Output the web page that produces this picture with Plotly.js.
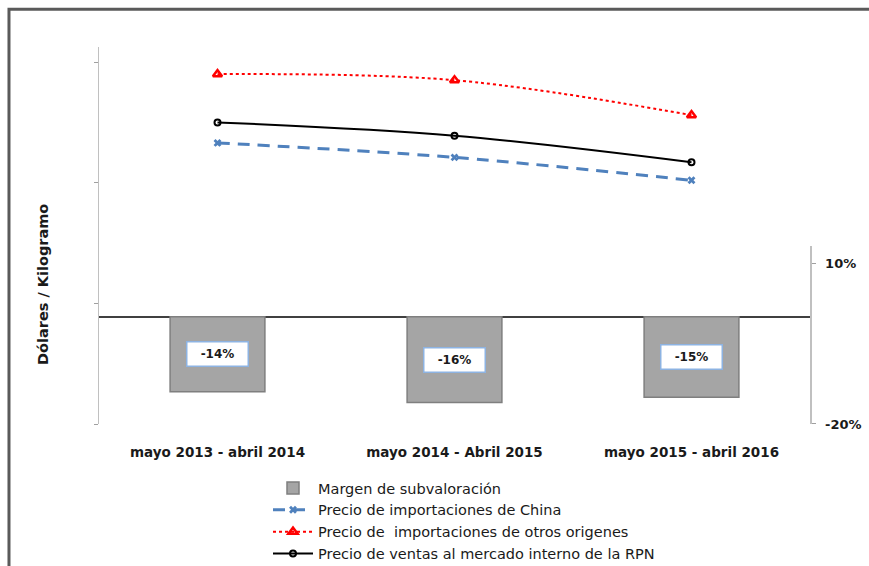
<!DOCTYPE html>
<html>
<head>
<meta charset="utf-8">
<script src="https://cdn.plot.ly/plotly-3.0.1.min.js"></script>
<style>html,body{margin:0;padding:0;background:#fff;}#chart{width:869px;height:566px;}</style>
</head>
<body>
<div id="chart"></div>
<script>
// Data
const categories = ["mayo 2013 - abril 2014", "mayo 2014 - Abril 2015", "mayo 2015 - abril 2016"];
const margen = [-14, -16, -15];               // % margen de subvaloración
const margenLabels = ["-14%", "-16%", "-15%"];
const precioChina = [2.33, 2.21, 2.02];       // Dólares / Kilogramo (escala relativa)
const precioOtros = [2.90, 2.85, 2.56];
const precioRPN = [2.50, 2.39, 2.17];
const rightTickVals = [10, -20];
const rightTickText = ["10%", "-20%"];

const FONT = "DejaVu Sans, Liberation Sans, Arial, sans-serif";

const traces = [
  {
    type: "bar", name: "Margen de subvaloración",
    x: categories, y: margen, xaxis: "x", yaxis: "y2", width: 0.4,
    marker: {color: "#a5a5a5", line: {color: "#7f7f7f", width: 1.5}},
    hoverinfo: "skip"
  },
  {
    type: "scatter", mode: "lines+markers", name: "Precio de importaciones de China",
    x: categories, y: precioChina,
    line: {color: "#4f81bd", width: 3, dash: "12px,8px", shape: "spline"},
    marker: {symbol: "x", size: 7, color: "#4f81bd"}
  },
  {
    type: "scatter", mode: "lines+markers", name: "Precio de  importaciones de otros origenes",
    x: categories, y: precioOtros,
    line: {color: "#ff0000", width: 2, dash: "dot", shape: "spline"},
    marker: {symbol: "triangle-up-open", size: 8, color: "#ff0000", line: {width: 2.5, color: "#ff0000"}}
  },
  {
    type: "scatter", mode: "lines+markers", name: "Precio de ventas al mercado interno de la RPN",
    x: categories, y: precioRPN,
    line: {color: "#000000", width: 2, shape: "spline"},
    marker: {symbol: "circle-open", size: 6, color: "#000000", line: {width: 2, color: "#000000"}}
  }
];

const annotations = margen.map((v, i) => ({
  x: categories[i], y: v / 2, xref: "x", yref: "y2",
  text: "<b>" + margenLabels[i] + "</b>", showarrow: false,
  font: {family: FONT, size: 12, color: "#1a1a1a"},
  bgcolor: "#ffffff", bordercolor: "#8db3e2", borderwidth: 1.5,
  width: 58, height: 21, borderpad: 1
}));
annotations.push({
  xref: "paper", yref: "paper", x: -0.0795, y: 0.37, xanchor: "center", yanchor: "middle",
  text: "<b>Dólares / Kilogramo</b>", textangle: -90, showarrow: false,
  font: {family: FONT, size: 14.5, color: "#1a1a1a"}
});

const layout = {
  width: 869, height: 566,
  margin: {l: 99, r: 59, t: 47, b: 142, autoexpand: false},
  paper_bgcolor: "#ffffff", plot_bgcolor: "rgba(0,0,0,0)",
  font: {family: FONT, color: "#1a1a1a"},
  showlegend: true,
  xaxis: {
    type: "category", range: [-0.5, 2.5], anchor: "y",
    showline: false, showgrid: false, zeroline: false, tickangle: 0,
    ticks: "outside", ticklen: 16, tickcolor: "rgba(0,0,0,0)",
    tickfont: {family: FONT, size: 13.5, color: "#1a1a1a", weight: "bold"},
    fixedrange: true
  },
  yaxis: {
    range: [0, 3.125], tickvals: [0, 1, 2, 3], showticklabels: false,
    showline: true, linecolor: "#c0c0c0", linewidth: 1.5,
    ticks: "outside", ticklen: 4, tickcolor: "#a0a0a0",
    showgrid: false, zeroline: false, fixedrange: true
  },
  yaxis2: {
    side: "right", anchor: "x",
    domain: [0, 0.472], range: [-20, 13.2],
    tickvals: rightTickVals, ticktext: rightTickText,
    tickfont: {family: FONT, size: 13, color: "#1a1a1a", weight: "bold"},
    ticklabelstandoff: 7,
    showline: true, linecolor: "#c0c0c0", linewidth: 1.5,
    ticks: "outside", ticklen: 4, tickcolor: "#a0a0a0",
    showgrid: false, zeroline: true, zerolinecolor: "#404040", zerolinewidth: 1.5,
    fixedrange: true
  },
  legend: {
    xref: "container", yref: "container",
    x: 268 / 869, y: 1 - 472 / 566, xanchor: "left", yanchor: "top",
    font: {family: FONT, size: 14.5, color: "#1a1a1a"},
    itemwidth: 40,
    bgcolor: "rgba(0,0,0,0)", traceorder: "normal", tracegroupgap: 0
  },
  annotations: annotations,
  shapes: [{
    type: "rect", xref: "paper", yref: "paper",
    x0: -0.1266, x1: 1.2, y0: -0.5, y1: 1.1, line: {color: "#5a5a5a", width: 3}
  }]
};

Plotly.newPlot("chart", traces, layout, {displayModeBar: false, staticPlot: true});
</script>
</body>
</html>
